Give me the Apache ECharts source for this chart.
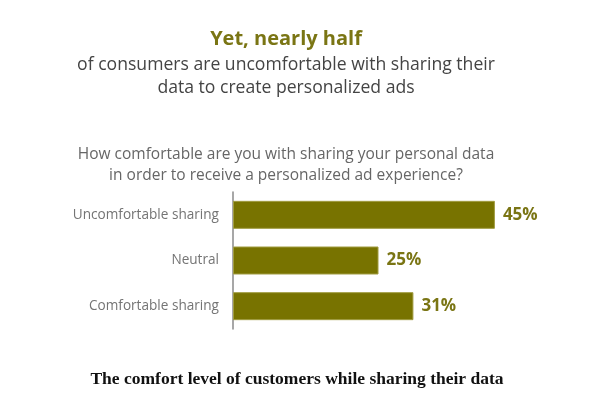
<!DOCTYPE html>
<html>
<head>
<meta charset="utf-8">
<script src="https://cdn.jsdelivr.net/npm/echarts@6/dist/echarts.min.js"></script>
<style>
  html, body { margin: 0; padding: 0; background: #fff; }
  #chart { width: 600px; height: 408px; }
</style>
</head>
<body>
<div id="chart"></div>
<script>
const categories = ["Uncomfortable sharing", "Neutral", "Comfortable sharing"];
const shares = [45, 25, 31];

const olive = "#787300";
const sans = "'Open Sans', 'Noto Sans', sans-serif";

const chart = echarts.init(document.getElementById("chart"));

// title boxes carry 5px padding, so the anchors sit 5px left of the visual centre
const option = {
  backgroundColor: "#fff",
  title: [
    {
      text: "Yet, nearly half",
      left: 281,
      top: 24,
      textAlign: "center",
      textStyle: { color: "#7a7514", fontSize: 20, fontWeight: "bold", fontFamily: sans }
    },
    {
      text: "of consumers are uncomfortable with sharing their\ndata to create personalized ads",
      left: 281,
      top: 48,
      textAlign: "center",
      textStyle: { color: "#444", fontSize: 17.6, fontWeight: "normal", fontFamily: sans, lineHeight: 23, align: "center" }
    },
    {
      text: "How comfortable are you with sharing your personal data\nin order to receive a personalized ad experience?",
      left: 281,
      top: 139,
      textAlign: "center",
      textStyle: { color: "#666", fontSize: 15.5, fontWeight: "normal", fontFamily: sans, lineHeight: 21, align: "center" }
    },
    {
      text: "The comfort level of customers while sharing their data",
      left: 292,
      top: 365,
      textAlign: "center",
      textStyle: { color: "#111", fontSize: 17.5, fontWeight: "bold", fontFamily: "'Liberation Serif', 'DejaVu Serif', serif" }
    }
  ],
  grid: { left: 233, top: 192, width: 291, height: 137 },
  xAxis: {
    type: "value",
    min: 0,
    max: 50,
    show: false
  },
  yAxis: {
    type: "category",
    inverse: true,
    data: categories,
    axisLine: { show: true, lineStyle: { color: "#8a8a8a", width: 1.5 } },
    axisTick: { show: false },
    axisLabel: { color: "#747474", fontSize: 13.6, fontFamily: sans, margin: 14 }
  },
  series: [
    {
      type: "bar",
      data: shares,
      barWidth: 28,
      itemStyle: { color: olive, borderColor: "#a09c40", borderWidth: 1 },
      label: {
        show: true,
        position: "right",
        distance: 8,
        formatter: "{c}%",
        color: "#7a7514",
        fontSize: 17,
        fontWeight: "bold",
        fontFamily: sans
      }
    }
  ]
};

chart.setOption(option);
</script>
</body>
</html>
